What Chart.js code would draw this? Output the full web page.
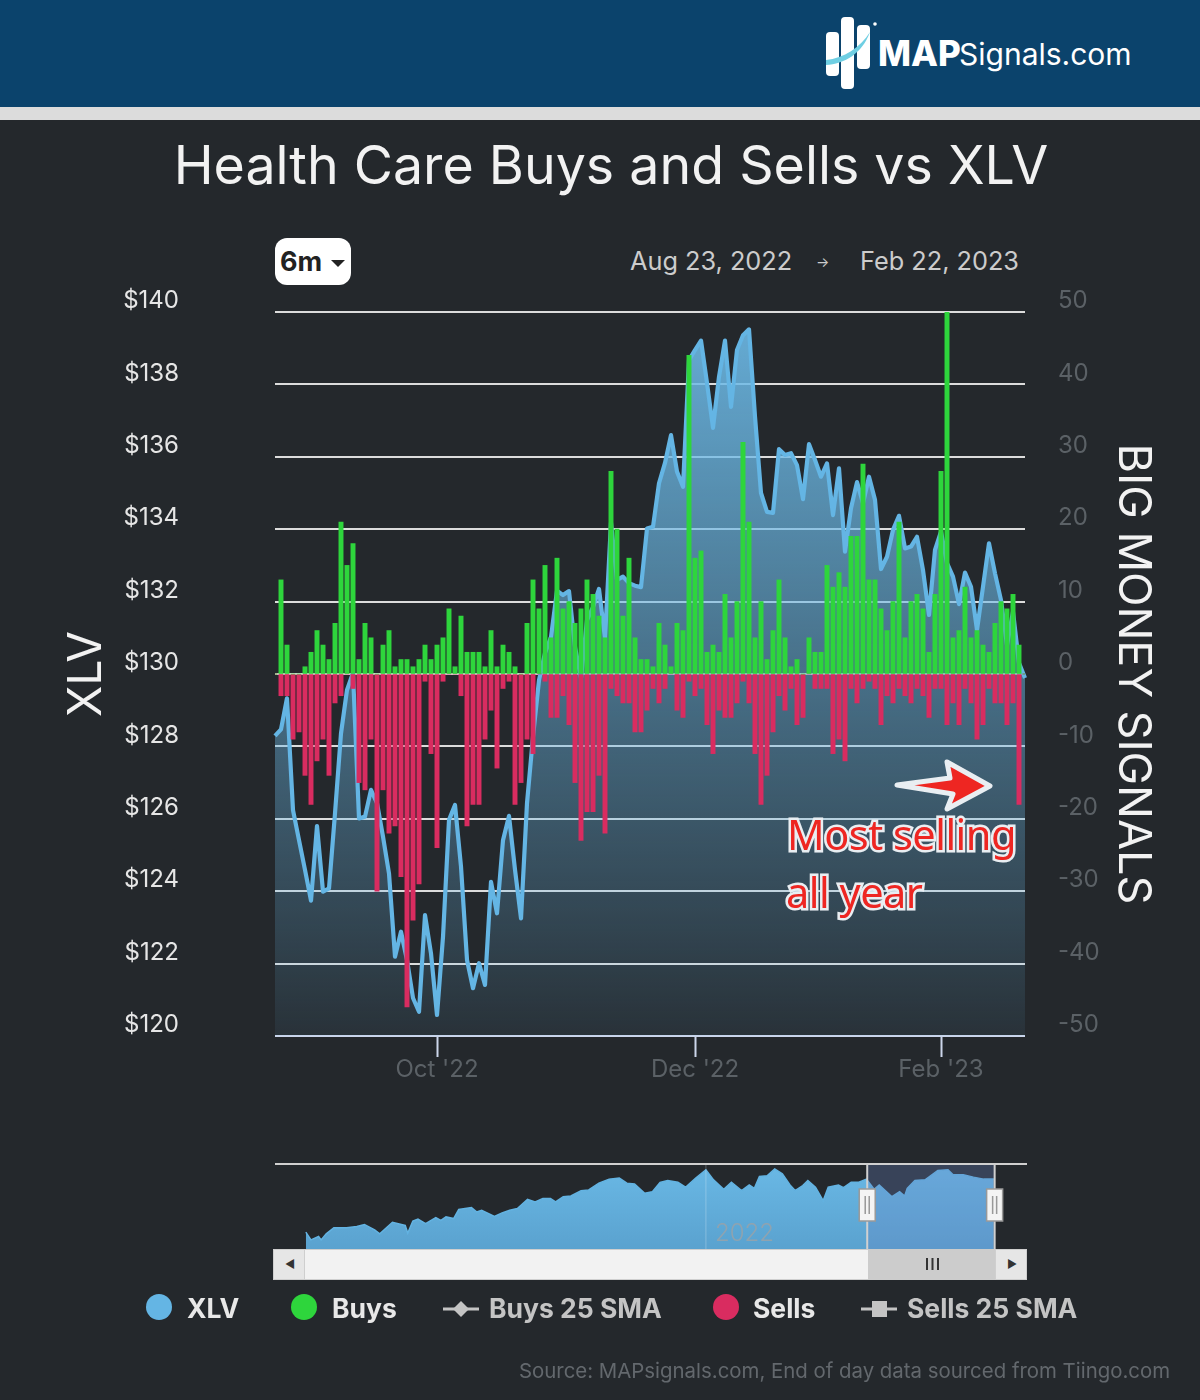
<!DOCTYPE html>
<html>
<head>
<meta charset="utf-8">
<title>Health Care Buys and Sells vs XLV</title>
<script src="https://cdn.jsdelivr.net/npm/chart.js@4"></script>
<style>
    html, body { margin: 0; padding: 0; background: #24282c; }
    #page { position: relative; width: 1200px; height: 1400px; overflow: hidden; background: #24282c; font-family: Inter, "Open Sans", sans-serif; }
    #page > * { position: absolute; }
    .txt { white-space: nowrap; line-height: 1; }
    #header { left: 0; top: 0; width: 1200px; height: 107px; background: #0b436c; }
    #band { left: 0; top: 107px; width: 1200px; height: 13px; background: #dcdcdc; }
    #title { left: 0; width: 1222px; top: 138px; text-align: center; color: #f2f2f2; font-size: 53.700px; }
    #pill { left: 275px; top: 238px; width: 76px; height: 47px; background: #fff; border-radius: 12px; color: #222; font-weight: 700; font-size: 27px; line-height: 47px; text-indent: 5px; }
    #caret { left: 331px; top: 260px; width: 0; height: 0; border-left: 7px solid transparent; border-right: 7px solid transparent; border-top: 7px solid #222; }
    .date { top: 248px; font-size: 25.300px; color: #cccccc; }
    .legend { top: 1295px; font-size: 26.500px; font-weight: 700; color: #e8e8e8; }
    .legend.off { color: #c4c4c4; }
    .dot { width: 26px; height: 26px; border-radius: 50%; top: 1294px; }
    .note { color: #ee2622; font-size: 41.500px; -webkit-text-stroke: 5px #e9eef2; paint-order: stroke fill; font-family: "Noto Sans", sans-serif; letter-spacing: -0.5px; }
    #source { left: 519px; top: 1361px; font-size: 20.400px; color: #63686d; }
    #chart, #nav { display: block; }
    #track { left: 273px; top: 1249px; width: 754px; height: 31px; background: #f2f2f2; box-shadow: inset 0 0 0 1px #cfcfcf; }
    .btn { top: 1249px; height: 31px; background: #e6e6e6; box-shadow: inset 0 0 0 1px #cfcfcf; }
    #thumb { left: 868px; top: 1249px; width: 127px; height: 31px; background: #cccccc; }
</style>
</head>
<body>
<div id="page">
    <div id="header"></div>
    <div id="band"></div>
    <svg style="left:820px;top:10px" width="70" height="85">
        <rect x="6" y="22" width="13" height="44" rx="4" fill="#fff"/>
        <rect x="21" y="7" width="13" height="72" rx="4" fill="#fff"/>
        <rect x="37" y="15" width="13" height="44" rx="4" fill="#fff"/>
        <path d="M6 50 C24 48 40 38 50 22 C42 44 24 54 6 55 Z" fill="#6fcfe3"/>
        <circle cx="55" cy="14" r="1.8" fill="#fff"/>
    </svg>
    <div class="txt" style="left:878px;top:36px;font-size:35px;font-weight:800;color:#fff">MAP</div>
    <div class="txt" style="left:959px;top:39px;font-size:30px;color:#fff">Signals.com</div>
    <div id="title" class="txt">Health Care Buys and Sells vs XLV</div>
    <div id="pill" class="txt">6m</div>
    <div id="caret"></div>
    <div class="date txt" style="left:630px">Aug 23, 2022</div>
    <div class="date txt" style="left:816px;font-size:14px;top:255px">→</div>
    <div class="date txt" style="left:860px">Feb 22, 2023</div>

    <canvas id="chart" width="1200" height="1400" style="left:0;top:0"></canvas>

    <svg style="left:885px;top:750px" width="120" height="70">
        <path d="M12 35 L65 28 L62 12 L105 36 L62 59 L68 44 Z" fill="#ee2622" stroke="#e9eef2" stroke-width="5" stroke-linejoin="round"/>
    </svg>
    <div class="note txt" style="left:787px;top:814px">Most selling</div>
    <div class="note txt" style="left:786px;top:872px">all year</div>

    <canvas id="nav" width="752" height="86" style="left:275px;top:1163px"></canvas>
    <div class="txt" style="left:715px;top:1221px;font-size:24px;font-weight:300;color:#8fa3b0">2022</div>
    <div id="track"></div>
    <div class="btn" style="left:273px;width:32px"></div>
    <div class="btn" style="left:995px;width:32px"></div>
    <div id="thumb"></div>
    <div class="txt" style="left:285px;top:1259px;font-size:11px;color:#333">◀</div>
    <div class="txt" style="left:1007px;top:1259px;font-size:11px;color:#333">▶</div>
    <svg style="left:925px;top:1257px" width="16" height="14">
        <path d="M2 1V13M7.500 1V13M13 1V13" stroke="#333" stroke-width="2"/>
    </svg>

    <div class="dot" style="left:146px;background:#64b5e4"></div>
    <div class="legend txt" style="left:187px">XLV</div>
    <div class="dot" style="left:291px;background:#2ed53c"></div>
    <div class="legend txt" style="left:332px">Buys</div>
    <svg style="left:443px;top:1298px" width="36" height="22">
        <path d="M0 11H36" stroke="#c4c4c4" stroke-width="3"/>
        <path d="M18 3L26 11L18 19L10 11Z" fill="#c4c4c4"/>
    </svg>
    <div class="legend off txt" style="left:489px">Buys 25 SMA</div>
    <div class="dot" style="left:713px;background:#d92c60"></div>
    <div class="legend txt" style="left:753px">Sells</div>
    <svg style="left:861px;top:1298px" width="36" height="22">
        <path d="M0 11H36" stroke="#c4c4c4" stroke-width="3"/>
        <rect x="11" y="3" width="15" height="16" fill="#c4c4c4"/>
    </svg>
    <div class="legend off txt" style="left:907px">Sells 25 SMA</div>
    <div id="source" class="txt">Source: MAPsignals.com, End of day data sourced from Tiingo.com</div>
</div>

<script>
const xlvPrices = [
    128.29, 128.47, 129.33, 126.24, 125.41, 124.59, 123.74, 125.80, 123.99, 124.08,
    126.15, 128.36, 129.56, 130.03, 126.01, 126.06, 126.80, 126.43, 125.51, 124.49,
    122.19, 122.88, 122.10, 121.05, 120.67, 123.34, 122.28, 120.58, 122.74, 125.97,
    126.38, 124.68, 122.10, 121.32, 122.01, 121.41, 124.26, 123.39, 125.41, 126.08,
    124.59, 123.25, 126.43, 128.27, 129.83, 130.58, 131.02, 132.30, 132.18, 132.29,
    130.75, 129.89, 131.49, 131.85, 132.35, 130.99, 134.18, 132.60, 132.69, 132.51,
    132.44, 132.40, 134.02, 134.07, 135.27, 135.83, 136.60, 135.59, 135.17, 138.67,
    138.95, 139.21, 138.04, 136.80, 138.21, 139.21, 137.38, 138.95, 139.36, 139.52,
    137.11, 135.00, 134.48, 134.45, 136.21, 136.05, 136.10, 135.77, 134.83, 136.35,
    135.91, 135.45, 135.82, 134.39, 135.68, 133.38, 134.58, 135.30, 134.72, 135.45,
    134.81, 132.90, 133.24, 133.98, 134.37, 133.47, 133.52, 133.79, 132.87, 131.63,
    133.43, 133.93, 133.06, 132.69, 131.93, 132.80, 132.41, 131.22, 132.41, 133.61,
    132.78, 132.04, 130.80, 131.72, 130.30, 129.89
];
const buys = [
    0, 13, 4, 0, 0, 1, 3, 6, 4, 2,
    7, 21, 15, 18, 2, 7, 5, 0, 4, 6,
    1, 2, 2, 1, 2, 4, 2, 4, 5, 9,
    1, 8, 3, 3, 3, 1, 6, 1, 4, 3,
    1, 0, 7, 13, 9, 15, 5, 16, 9, 10,
    7, 9, 13, 11, 8, 5, 28, 20, 8, 16,
    5, 2, 2, 1, 7, 4, 1, 7, 6, 44,
    16, 17, 3, 4, 3, 11, 5, 10, 32, 21,
    5, 10, 2, 6, 13, 5, 1, 2, 0, 5,
    3, 3, 15, 12, 14, 12, 19, 19, 29, 13,
    13, 9, 6, 10, 21, 5, 10, 11, 9, 3,
    11, 28, 50, 5, 6, 12, 5, 6, 4, 3,
    7, 10, 9, 11, 4, 0
];
const sells = [
    0, -3, -3, -9, -8, -14, -18, -12, -9, -14,
    -4, -3, 0, -2, -15, -16, -9, -30, -16, -22,
    -21, -28, -46, -34, -29, -1, -11, -24, -1, 0,
    0, -3, -21, -18, -18, -9, -5, -13, -2, -1,
    -18, -15, -9, -11, 0, -1, -6, -6, -3, -7,
    -15, -23, -19, -19, -14, -22, -2, -3, -4, -4,
    -8, -8, -5, -2, -4, -2, 0, -5, -6, -1,
    -3, -2, -7, -11, -5, -6, -6, -4, -1, -4,
    -11, -18, -14, -8, -3, -5, -2, -7, -6, 0,
    -2, -2, -2, -11, -9, -12, -2, -4, -2, -1,
    -2, -7, -3, -4, -2, -3, -4, -2, -3, -6,
    -2, -2, -7, -4, -7, -2, -4, -9, -7, -2,
    -4, -4, -7, -4, -18, 0
];
const monthTickIndex = [27, 70, 111];
const monthTickLabels = ["Oct '22", "Dec '22", "Feb '23"];

// navigator: fractional year and XLV close over the whole history
const navYears = [
    2020.43, 2020.45, 2020.48, 2020.49, 2020.51, 2020.54, 2020.59, 2020.63, 2020.66, 2020.70,
    2020.72, 2020.77, 2020.82, 2020.83, 2020.85, 2020.87, 2020.90, 2020.94, 2020.96, 2020.98,
    2021.01, 2021.03, 2021.08, 2021.10, 2021.12, 2021.17, 2021.20, 2021.23, 2021.26, 2021.30,
    2021.33, 2021.36, 2021.39, 2021.41, 2021.44, 2021.47, 2021.51, 2021.54, 2021.58, 2021.62,
    2021.66, 2021.69, 2021.72, 2021.76, 2021.79, 2021.82, 2021.85, 2021.89, 2021.92, 2021.96,
    2022.00, 2022.03, 2022.07, 2022.10, 2022.14, 2022.17, 2022.19, 2022.21, 2022.24, 2022.27,
    2022.30, 2022.33, 2022.35, 2022.38, 2022.40, 2022.43, 2022.44, 2022.46, 2022.48, 2022.52,
    2022.54, 2022.57, 2022.60, 2022.63, 2022.66, 2022.68, 2022.73, 2022.76, 2022.78, 2022.79,
    2022.82, 2022.86, 2022.91, 2022.95, 2022.97, 2023.01, 2023.05, 2023.09, 2023.13
];
const navPrices = [
    95.6, 90.1, 92.5, 90.1, 94.4, 98.7, 98.7, 99.6, 101.0, 97.2,
    94.4, 102.5, 100.3, 94.9, 103.4, 104.8, 101.5, 105.8, 103.9, 106.3,
    105.1, 111.5, 112.9, 109.8, 111.0, 106.7, 109.1, 111.0, 112.2, 118.6,
    116.9, 119.3, 119.3, 116.9, 120.5, 121.0, 124.8, 125.3, 130.0, 132.9,
    133.6, 130.0, 129.5, 122.9, 124.1, 130.5, 131.9, 130.7, 127.2, 133.6,
    139.5, 132.4, 125.8, 130.7, 124.8, 128.8, 126.4, 134.8, 135.2, 140.0,
    136.7, 128.8, 124.8, 128.4, 131.9, 127.2, 124.1, 117.7, 127.2, 128.8,
    126.9, 130.7, 130.7, 132.9, 125.8, 128.8, 120.5, 124.1, 121.0, 126.4,
    131.9, 132.4, 139.0, 139.5, 135.9, 135.9, 134.3, 132.9, 132.9
];
const navSelection = [2022.633, 2023.133];
const navYearTick = 2022;

const labelFont = { family: 'Inter', size: 24 };

function areaGradient(context) {
    const area = context.chart.chartArea;
    if (!area) return 'transparent';
    const g = context.chart.ctx.createLinearGradient(0, area.top, 0, area.bottom);
    g.addColorStop(0, 'rgba(108, 185, 230, 0.92)');
    g.addColorStop(1, 'rgba(108, 185, 230, 0.07)');
    return g;
}

new Chart(document.getElementById('chart'), {
    type: 'bar',
    data: {
        labels: xlvPrices.map((_, i) => {
            const at = monthTickIndex.indexOf(i);
            return at >= 0 ? monthTickLabels[at] : '';
        }),
        datasets: [
            { type: 'bar', label: 'Buys', data: buys, yAxisID: 'ySignals', backgroundColor: '#2ed53c', barThickness: 4.3, grouped: false, order: 1 },
            { type: 'bar', label: 'Sells', data: sells, yAxisID: 'ySignals', backgroundColor: '#d92c60', barThickness: 4.3, grouped: false, order: 1 },
            { type: 'line', label: 'XLV', data: xlvPrices, yAxisID: 'yPrice', borderColor: '#64b5e4', borderWidth: 4.2, borderJoinStyle: 'round', pointRadius: 0, tension: 0, fill: 'start', backgroundColor: areaGradient, order: 2 }
        ]
    },
    options: {
        responsive: false,
        animation: false,
        layout: { padding: { top: 312 } },
        plugins: { legend: { display: false }, tooltip: { enabled: false } },
        scales: {
            x: {
                offset: false,
                afterFit: (scale) => { scale.height = 364; },
                afterBuildTicks: (scale) => { scale.ticks = monthTickIndex.map(value => ({ value })); },
                grid: { offset: false, drawOnChartArea: false, tickLength: 21, tickColor: '#ccd6eb', tickWidth: 2 },
                border: { display: false },
                ticks: { autoSkip: false, maxRotation: 0, padding: -2, color: '#5b6166', font: labelFont }
            },
            yPrice: {
                position: 'left',
                min: 120,
                max: 140,
                afterFit: (scale) => { scale.width = 275; },
                grid: { drawTicks: false, color: (c) => c.tick.value === 120 ? '#ccd6eb' : '#dcdcdc', lineWidth: 2 },
                border: { display: false },
                ticks: { stepSize: 2, padding: 96, labelOffset: -11, color: '#e6e6e6', font: labelFont, callback: (v) => '$' + v },
                title: { display: true, text: 'XLV', color: '#f2f2f2', font: { family: 'Inter', size: 46 }, padding: { top: 60, bottom: 0 } }
            },
            ySignals: {
                position: 'right',
                min: -50,
                max: 50,
                afterFit: (scale) => { scale.width = 175; },
                grid: { drawOnChartArea: false, drawTicks: false },
                border: { display: false },
                ticks: { stepSize: 10, padding: 33, labelOffset: -11, color: '#5b6166', font: labelFont, callback: (v) => String(v) },
                title: { display: true, text: 'BIG MONEY SIGNALS', color: '#f2f2f2', font: { family: 'Inter', size: 45 }, padding: { top: 40, bottom: 0 } }
            }
        }
    }
});

// selection mask, handles and year line for the navigator
const navOverlay = {
    id: 'navOverlay',
    afterDatasetsDraw(chart) {
        const { ctx, chartArea, scales } = chart;
        const x0 = scales.x.getPixelForValue(navSelection[0]);
        const x1 = scales.x.getPixelForValue(navSelection[1]);
        const yr = scales.x.getPixelForValue(navYearTick);
        ctx.save();
        ctx.fillStyle = 'rgba(102, 133, 194, 0.3)';
        ctx.fillRect(x0, chartArea.top, x1 - x0, chartArea.bottom - chartArea.top);
        ctx.strokeStyle = 'rgba(255, 255, 255, 0.25)';
        ctx.lineWidth = 1;
        ctx.beginPath();
        ctx.moveTo(yr, chartArea.top);
        ctx.lineTo(yr, chartArea.bottom);
        ctx.stroke();
        ctx.strokeStyle = '#d0d0d0';
        ctx.lineWidth = 2;
        ctx.beginPath();
        ctx.moveTo(chartArea.left, 1);
        ctx.lineTo(chartArea.right, 1);
        [x0, x1].forEach(x => { ctx.moveTo(x, 1); ctx.lineTo(x, chartArea.bottom); });
        ctx.stroke();
        [x0, x1].forEach(x => {
            ctx.fillStyle = '#f4f4f4';
            ctx.strokeStyle = '#999';
            ctx.lineWidth = 1.5;
            ctx.fillRect(x - 8, 26, 16, 32);
            ctx.strokeRect(x - 8, 26, 16, 32);
            ctx.beginPath();
            ctx.moveTo(x - 2, 33); ctx.lineTo(x - 2, 51);
            ctx.moveTo(x + 2, 33); ctx.lineTo(x + 2, 51);
            ctx.stroke();
        });
        ctx.restore();
    }
};

new Chart(document.getElementById('nav'), {
    type: 'line',
    data: {
        datasets: [{
            data: navYears.map((x, i) => ({ x, y: navPrices[i] })),
            borderColor: '#63b3e2',
            borderWidth: 1.5,
            pointRadius: 0,
            tension: 0,
            fill: 'start',
            backgroundColor: (context) => {
                const area = context.chart.chartArea;
                if (!area) return '#60abd9';
                const g = context.chart.ctx.createLinearGradient(0, area.top, 0, area.bottom);
                g.addColorStop(0, '#6ab9e6');
                g.addColorStop(1, '#5aa2cf');
                return g;
            }
        }]
    },
    options: {
        responsive: false,
        animation: false,
        layout: { padding: 0 },
        plugins: { legend: { display: false }, tooltip: { enabled: false } },
        scales: {
            x: { type: 'linear', display: false, min: 2020.309, max: 2023.26 },
            y: { display: false, min: 83.7, max: 144.25 }
        }
    },
    plugins: [navOverlay]
});
</script>
</body>
</html>
